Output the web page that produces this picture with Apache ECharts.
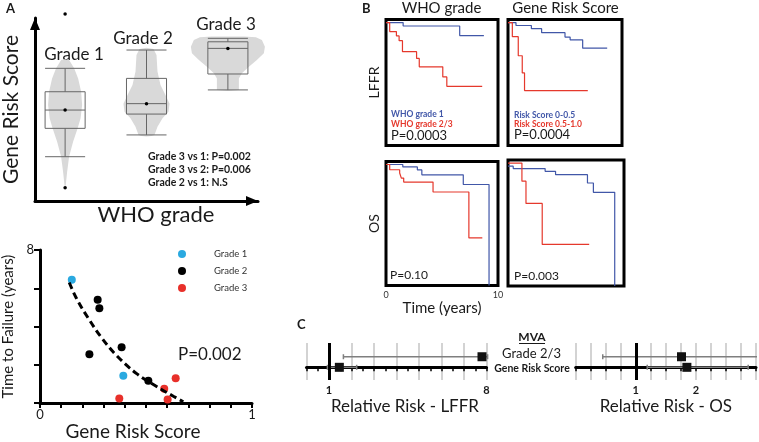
<!DOCTYPE html>
<html>
<head>
<meta charset="utf-8">
<title>Gene Risk Score</title>
<script src="https://cdn.jsdelivr.net/npm/echarts@6/dist/echarts.min.js"></script>
<style>
html,body{margin:0;padding:0;background:#fff;}
#chart{width:759px;height:442px;}
</style>
</head>
<body>
<div id="chart"></div>
<script>
// ---- A (top): gene risk score by WHO grade ----
const gradeNames = ['Grade 1', 'Grade 2', 'Grade 3'];
const gradePos = [1, 2, 3];
const boxLow = [0.242, 0.361, 0.607];
const boxQ1 = [0.397, 0.475, 0.694];
const boxMedian = [0.497, 0.532, 0.834];
const boxQ3 = [0.597, 0.670, 0.870];
const boxHigh = [0.725, 0.825, 0.889];
const boxMean = [0.497, 0.532, 0.834];
const outlierGrade = [1, 1];
const outlierScore = [1.022, 0.073];
// violin outlines, top to bottom: [score, half width]
const violinGrade1 = [[0.775,0],[0.770,0.049],[0.725,0.111],[0.670,0.160],[0.597,0.197],[0.525,0.209],[0.452,0.190],[0.397,0.154],[0.324,0.098],[0.242,0.049],[0.160,0.025],[0.087,0.008],[0.075,0]];
const violinGrade2 = [[0.838,0],[0.831,0.086],[0.798,0.123],[0.707,0.135],[0.634,0.172],[0.579,0.233],[0.532,0.283],[0.488,0.270],[0.452,0.197],[0.406,0.135],[0.361,0.098],[0.355,0.06],[0.352,0]];
const violinGrade3 = [[0.899,0.20],[0.895,0.344],[0.880,0.418],[0.843,0.455],[0.807,0.442],[0.770,0.356],[0.734,0.258],[0.698,0.172],[0.670,0.135],[0.607,0.135],[0.601,0]];
const pTexts = ['Grade 3 vs 1: P=0.002', 'Grade 3 vs 2: P=0.006', 'Grade 2 vs 1: N.S'];

// ---- A (bottom): time to failure vs gene risk score ----
const grade1Pts = [[0.150, 6.44], [0.393, 1.43]];
const grade2Pts = [[0.272, 5.40], [0.280, 4.96], [0.233, 2.55], [0.385, 2.92], [0.511, 1.17]];
const grade3Pts = [[0.374, 0.24], [0.586, 0.75], [0.602, 0.19], [0.640, 1.30]];
const fitCurve = [[0.138, 6.30], [0.173, 5.45], [0.228, 4.43], [0.291, 3.41], [0.362, 2.48], [0.456, 1.54], [0.550, 0.87], [0.629, 0.36], [0.676, 0.07]];

// ---- B: Kaplan-Meier curves (time in years, survival fraction) ----
const lffrWho1T = [0, 1.53, 6.58, 8.74];
const lffrWho1S = [1, 0.972, 0.894, 0.894];
const lffrWho23T = [0, 0.33, 0.93, 1.17, 1.47, 2.73, 2.97, 5.07, 5.43, 8.59];
const lffrWho23S = [1, 0.927, 0.891, 0.853, 0.763, 0.708, 0.640, 0.558, 0.481, 0.481];
const lffrLowT = [0, 0.7, 2.05, 2.95, 5.0, 5.45, 6.55, 8.7];
const lffrLowS = [1, 0.976, 0.950, 0.918, 0.882, 0.860, 0.792, 0.792];
const lffrHighT = [0, 0.38, 0.9, 1.25, 1.45, 7.0];
const lffrHighS = [1, 0.885, 0.730, 0.590, 0.447, 0.447];
const osWho1T = [0, 1.5, 2.8, 3.2, 6.9, 9.2];
const osWho1S = [1, 0.980, 0.955, 0.915, 0.835, 0];
const osWho23T = [0, 0.33, 1.22, 1.37, 1.58, 4.2, 7.4, 8.6];
const osWho23S = [1, 0.957, 0.930, 0.888, 0.855, 0.773, 0.393, 0.393];
const osLowT = [0, 0.45, 3.2, 4.1, 6.85, 7.36, 9.2];
const osLowS = [0.975, 0.955, 0.933, 0.906, 0.838, 0.762, 0];
const osHighT = [0, 1.2, 1.55, 2.95, 7.0];
const osHighS = [1, 0.853, 0.672, 0.338, 0.338];

// ---- C: multivariate relative risk ----
const mvaRows = ['Gene Risk Score', 'Grade 2/3'];
const lffrRR = [1.46, 7.8];
const lffrLow = [0.93, 1.64];
const lffrHigh = [2.23, 8.05];
const osRR = [1.85, 1.76];
const osLow = [1.19, 0.45];
const osHigh = [2.87, 3.4];

const blue = '#4157a8', red = '#e5382c', ink = '#1a1a1a';
const violins = [violinGrade1, violinGrade2, violinGrade3];

let chart = echarts.init(document.getElementById('chart'));

function renderViolin(params, api) {
  let x = api.value(0);
  let prof = violins[params.dataIndex];
  let right = prof.map(function (p) { return api.coord([x + p[1], p[0]]); });
  let left = prof.slice().reverse().map(function (p) { return api.coord([x - p[1], p[0]]); });
  return {type: 'polygon', shape: {points: right.concat(left)}, style: {fill: '#d9d9d9'}};
}

function renderBox(params, api) {
  let x = api.value(0), half = 0.246;
  let low = api.coord([x, api.value(1)]), q1 = api.coord([x, api.value(2)]);
  let med = api.coord([x, api.value(3)]), q3 = api.coord([x, api.value(4)]);
  let high = api.coord([x, api.value(5)]);
  let xl = api.coord([x - half, 0])[0], xr = api.coord([x + half, 0])[0];
  let st = {stroke: '#666', lineWidth: 1, fill: 'none'};
  return {type: 'group', children: [
    {type: 'line', shape: {x1: low[0], y1: low[1], x2: q1[0], y2: q1[1]}, style: st},
    {type: 'line', shape: {x1: q3[0], y1: q3[1], x2: high[0], y2: high[1]}, style: st},
    {type: 'line', shape: {x1: xl, y1: low[1], x2: xr, y2: low[1]}, style: st},
    {type: 'line', shape: {x1: xl, y1: high[1], x2: xr, y2: high[1]}, style: st},
    {type: 'rect', shape: {x: xl, y: q3[1], width: xr - xl, height: q1[1] - q3[1]}, style: st},
    {type: 'line', shape: {x1: xl, y1: med[1], x2: xr, y2: med[1]}, style: st}
  ]};
}

function renderErr(params, api) {
  let row = api.value(0);
  let a = api.coord([api.value(1), row]), b = api.coord([api.value(2), row]);
  let st = {stroke: '#7f7f7f', lineWidth: 1.5};
  return {type: 'group', children: [
    {type: 'line', shape: {x1: a[0], y1: a[1], x2: b[0], y2: b[1]}, style: st},
    {type: 'line', shape: {x1: a[0], y1: a[1] - 2.5, x2: a[0], y2: a[1] + 2.5}, style: st},
    {type: 'line', shape: {x1: b[0], y1: b[1] - 2.5, x2: b[0], y2: b[1] + 2.5}, style: st}
  ]};
}

function zip(a, b) { return a.map(function (v, i) { return [v, b[i]]; }); }

function kmSeries(t, s, color, idx) {
  return {type: 'line', step: 'end', xAxisIndex: idx, yAxisIndex: idx, data: zip(t, s),
    showSymbol: false, silent: true, lineStyle: {color: color, width: 1.2}, itemStyle: {color: color}};
}

function kmX(idx, labels) {
  return {type: 'value', gridIndex: idx, min: 0, max: 10, interval: 10,
    axisLine: {show: false}, axisTick: {show: false}, splitLine: {show: false},
    axisLabel: {show: labels, fontSize: 9, color: '#333', margin: 5},
    name: labels ? 'Time (years)' : '', nameLocation: 'middle', nameGap: 9,
    nameTextStyle: {fontSize: 15, color: ink}};
}

function kmY(idx, name) {
  return {type: 'value', gridIndex: idx, min: 0, max: 1.025,
    axisLine: {show: false}, axisTick: {show: false}, axisLabel: {show: false}, splitLine: {show: false},
    name: name, nameLocation: 'middle', nameGap: 5, nameTextStyle: {fontSize: 14, color: ink}};
}

function txt(x, y, text, font, fill, align) {
  return {type: 'text', x: x, y: y, silent: true,
    style: {text: text, font: font, fill: fill || ink, align: align || 'left', textAlign: align || 'left',
      verticalAlign: 'middle', textVerticalAlign: 'middle'}};
}

let kmGrid = {show: true, borderColor: '#000', borderWidth: 3, backgroundColor: 'transparent'};
let hide = {axisLine: {show: false}, axisTick: {show: false}, axisLabel: {show: false}, splitLine: {show: false}};
let solid = function (c) { return {color: c, opacity: 1}; };

chart.setOption({
  animation: false,
  backgroundColor: '#fff',
  textStyle: {fontFamily: 'Lato'},
  grid: [
    {left: 35, top: 18, width: 223, height: 183},
    {left: 40, top: 250, width: 212, height: 157},
    Object.assign({left: 386, top: 19.5, width: 112, height: 126}, kmGrid),
    Object.assign({left: 508, top: 19.5, width: 114, height: 126}, kmGrid),
    Object.assign({left: 386, top: 161.5, width: 112, height: 124}, kmGrid),
    Object.assign({left: 508, top: 160, width: 116, height: 126}, kmGrid),
    {left: 306.5, top: 343, width: 180, height: 37},
    {left: 575.7, top: 343, width: 183, height: 37}
  ],
  legend: {
    data: gradeNames, orient: 'vertical', left: 178, top: 248, padding: 0,
    itemWidth: 32, itemHeight: 8, itemGap: 5, icon: 'circle', selectedMode: false,
    textStyle: {fontSize: 9.5, color: '#333', lineHeight: 12, padding: [0, 0, 0, 11]}
  },
  xAxis: [
    {type: 'value', gridIndex: 0, min: 0.63, max: 3.37,
      axisLine: {symbol: ['none', 'triangle'], symbolSize: [10, 12], symbolOffset: [0, -6], lineStyle: {color: '#000', width: 3}},
      axisTick: {show: false}, axisLabel: {show: false}, splitLine: {show: false},
      name: 'WHO grade', nameLocation: 'middle', nameGap: 3,
      nameTextStyle: {fontSize: 22, color: ink, padding: [0, 0, 0, 19]}},
    {type: 'value', gridIndex: 1, min: 0, max: 1, interval: 0.1,
      axisLine: {lineStyle: {color: '#000', width: 3}},
      axisTick: {inside: false, length: 5, lineStyle: {width: 2, color: '#000'}},
      axisLabel: {fontSize: 13, color: ink, margin: 5, formatter: function (v) { return (v === 0 || v === 1) ? String(v) : ''; }},
      splitLine: {show: false},
      name: 'Gene Risk Score', nameLocation: 'middle', nameGap: 16,
      nameTextStyle: {fontSize: 19, color: ink, padding: [0, 26, 0, 0]}},
    kmX(2, false), kmX(3, false), kmX(4, true), kmX(5, false),
    {type: 'value', gridIndex: 6, min: 0, max: 8, interval: 1,
      axisLine: {lineStyle: {color: '#000', width: 3}},
      axisTick: {length: 4, lineStyle: {color: '#000', width: 1.5}},
      minorTick: {show: true, splitNumber: 2, length: 4, lineStyle: {color: '#000', width: 1.5}},
      axisLabel: {fontSize: 11, fontWeight: 'bold', color: ink, margin: 5, formatter: function (v) { return (v === 1 || v === 8) ? String(v) : ''; }},
      splitLine: {show: true, lineStyle: {color: '#c4c4c4', width: 1.5}},
      name: 'Relative Risk - LFFR', nameLocation: 'middle', nameGap: 18,
      nameTextStyle: {fontSize: 17, color: ink, padding: [0, 0, 0, 17]}},
    {type: 'value', gridIndex: 7, min: 0, max: 3, interval: 0.25,
      axisLine: {lineStyle: {color: '#000', width: 3}},
      axisTick: {length: 4, lineStyle: {color: '#000', width: 1.5}},
      axisLabel: {fontSize: 11, fontWeight: 'bold', color: ink, margin: 5, formatter: function (v) { return (v === 1 || v === 2) ? String(v) : ''; }},
      splitLine: {show: true, lineStyle: {color: '#c4c4c4', width: 1.5}},
      name: 'Relative Risk - OS', nameLocation: 'middle', nameGap: 18,
      nameTextStyle: {fontSize: 17, color: ink}}
  ],
  yAxis: [
    {type: 'value', gridIndex: 0, min: 0, max: 1,
      axisLine: {symbol: ['none', 'triangle'], symbolSize: [10, 12], symbolOffset: [0, -6], lineStyle: {color: '#000', width: 3}},
      axisTick: {show: false}, axisLabel: {show: false}, splitLine: {show: false},
      name: 'Gene Risk Score', nameLocation: 'middle', nameGap: 13,
      nameTextStyle: {fontSize: 21, color: ink}},
    {type: 'value', gridIndex: 1, min: 0, max: 8, interval: 2,
      axisLine: {lineStyle: {color: '#000', width: 3}},
      axisTick: {inside: false, length: 6, lineStyle: {width: 2, color: '#000'}},
      axisLabel: {fontSize: 13, color: ink, margin: 6, formatter: function (v) { return v === 8 ? '8' : ''; }},
      splitLine: {show: false},
      name: 'Time to Failure (years)', nameLocation: 'middle', nameGap: 24,
      nameTextStyle: {fontSize: 15, color: ink}},
    kmY(2, 'LFFR'), kmY(3, ''), kmY(4, 'OS'), kmY(5, ''),
    Object.assign({type: 'value', gridIndex: 6, min: -1.2, max: 2.3}, hide),
    Object.assign({type: 'value', gridIndex: 7, min: -1.2, max: 2.3}, hide)
  ],
  series: [
    {type: 'custom', name: 'violin', xAxisIndex: 0, yAxisIndex: 0, silent: true,
      renderItem: renderViolin, data: gradePos.map(function (p) { return [p, 0.5]; })},
    {type: 'custom', name: 'box', xAxisIndex: 0, yAxisIndex: 0, silent: true,
      renderItem: renderBox, encode: {x: 0, y: [1, 2, 3, 4, 5]},
      data: gradePos.map(function (p, i) { return [p, boxLow[i], boxQ1[i], boxMedian[i], boxQ3[i], boxHigh[i]]; })},
    {type: 'scatter', name: 'mean', xAxisIndex: 0, yAxisIndex: 0, silent: true, clip: false,
      symbolSize: 3.5, itemStyle: solid('#000'), data: zip(gradePos, boxMean)},
    {type: 'scatter', name: 'outlier', xAxisIndex: 0, yAxisIndex: 0, silent: true, clip: false,
      symbolSize: 3.5, itemStyle: solid('#000'), data: zip(outlierGrade, outlierScore)},

    {type: 'line', name: 'fit', xAxisIndex: 1, yAxisIndex: 1, data: fitCurve, smooth: 0.4,
      showSymbol: false, silent: true, lineStyle: {color: '#000', width: 3, type: [7, 4]}},
    {type: 'scatter', name: 'Grade 1', xAxisIndex: 1, yAxisIndex: 1, data: grade1Pts, symbolSize: 8, itemStyle: solid('#2aa9e0')},
    {type: 'scatter', name: 'Grade 2', xAxisIndex: 1, yAxisIndex: 1, data: grade2Pts, symbolSize: 8, itemStyle: solid('#000')},
    {type: 'scatter', name: 'Grade 3', xAxisIndex: 1, yAxisIndex: 1, data: grade3Pts, symbolSize: 8, itemStyle: solid('#e8302a')},

    kmSeries(lffrWho1T, lffrWho1S, blue, 2), kmSeries(lffrWho23T, lffrWho23S, red, 2),
    kmSeries(lffrLowT, lffrLowS, blue, 3), kmSeries(lffrHighT, lffrHighS, red, 3),
    kmSeries(osWho1T, osWho1S, blue, 4), kmSeries(osWho23T, osWho23S, red, 4),
    kmSeries(osLowT, osLowS, blue, 5), kmSeries(osHighT, osHighS, red, 5),

    {type: 'custom', name: 'lffrCI', xAxisIndex: 6, yAxisIndex: 6, silent: true, renderItem: renderErr,
      encode: {x: [1, 2], y: 0}, data: mvaRows.map(function (r, i) { return [i, lffrLow[i], lffrHigh[i]]; })},
    {type: 'scatter', name: 'lffrRR', xAxisIndex: 6, yAxisIndex: 6, silent: true, symbol: 'rect', symbolSize: 9,
      itemStyle: solid('#111'), data: mvaRows.map(function (r, i) { return [lffrRR[i], i]; }),
      markLine: {silent: true, symbol: 'none', label: {show: false}, lineStyle: {color: '#000', width: 3, type: 'solid'}, data: [{xAxis: 1}]}},
    {type: 'custom', name: 'osCI', xAxisIndex: 7, yAxisIndex: 7, silent: true, renderItem: renderErr, clip: true,
      encode: {x: [1, 2], y: 0}, data: mvaRows.map(function (r, i) { return [i, osLow[i], osHigh[i]]; })},
    {type: 'scatter', name: 'osRR', xAxisIndex: 7, yAxisIndex: 7, silent: true, symbol: 'rect', symbolSize: 9,
      itemStyle: solid('#111'), data: mvaRows.map(function (r, i) { return [osRR[i], i]; }),
      markLine: {silent: true, symbol: 'none', label: {show: false}, lineStyle: {color: '#000', width: 3, type: 'solid'}, data: [{xAxis: 1}]}}
  ],
  graphic: [
    txt(6, 9, 'A', 'bold 13px Lato'),
    txt(362, 9, 'B', 'bold 13px Lato'),
    txt(297, 325, 'C', 'bold 13px Lato'),
    txt(74, 55, gradeNames[0], '17px Lato', ink, 'center'),
    txt(143, 38.5, gradeNames[1], '17px Lato', ink, 'center'),
    txt(226, 24.5, gradeNames[2], '17px Lato', ink, 'center'),
    txt(148, 156.7, pTexts[0], 'bold 10.5px Lato'),
    txt(148, 170, pTexts[1], 'bold 10.5px Lato'),
    txt(148, 182.7, pTexts[2], 'bold 10.5px Lato'),
    txt(178, 355, 'P=0.002', '17px Lato'),
    txt(441.5, 8, 'WHO grade', '15px Lato', ink, 'center'),
    txt(565.5, 8, 'Gene Risk Score', '15px Lato', ink, 'center'),
    txt(391, 114.7, 'WHO grade 1', 'bold 8.5px Lato', blue),
    txt(391, 124.7, 'WHO grade 2/3', 'bold 8.5px Lato', red),
    txt(391, 136, 'P=0.0003', '13px Lato'),
    txt(514, 115, 'Risk Score 0-0.5', 'bold 8.5px Lato', blue),
    txt(514, 124.7, 'Risk Score 0.5-1.0', 'bold 8.5px Lato', red),
    txt(514, 135, 'P=0.0004', '13px Lato'),
    txt(390, 275.3, 'P=0.10', '12px Lato'),
    txt(514, 276.3, 'P=0.003', '12px Lato'),
    txt(532, 337, 'MVA', 'bold 12px Lato', ink, 'center'),
    {type: 'line', silent: true, shape: {x1: 519, y1: 343.5, x2: 545, y2: 343.5}, style: {stroke: ink, lineWidth: 1}},
    txt(531.5, 354, mvaRows[1], '13px Lato', ink, 'center'),
    txt(532, 369, mvaRows[0], 'bold 10.5px Lato', ink, 'center')
  ]
});
</script>
</body>
</html>
